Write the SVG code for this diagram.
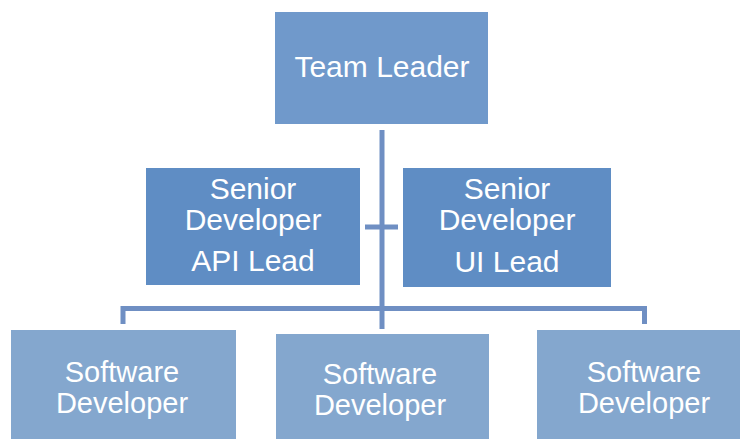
<svg xmlns="http://www.w3.org/2000/svg" width="740" height="439" viewBox="0 0 740 439">
<style>
.t{font-family:"Liberation Sans",Arial,sans-serif;font-size:29px;fill:#ffffff;text-anchor:middle}
.big{font-size:30px}
.ln{stroke:#6f8fc3;stroke-width:5;fill:none}
.lead{fill:#7099cb}
.sen{fill:#5f8dc4}
.sw{fill:#84a7ce}
</style>
<rect width="740" height="439" fill="#ffffff"/>
<g id="connectors">
<line class="ln" x1="382" y1="130" x2="382" y2="329"/>
<line class="ln" x1="365" y1="227" x2="398" y2="227"/>
<path class="ln" d="M123,324 V308.5 H644.5 V324"/>
</g>
<g id="team-leader">
<rect class="lead" x="275" y="12" width="213" height="112"/>
<text class="t big" x="382" y="77">Team Leader</text>
</g>
<g id="senior-api">
<rect class="sen" x="146" y="168" width="214" height="117"/>
<text class="t big" x="253" y="199">Senior</text>
<text class="t big" x="253" y="230">Developer</text>
<text class="t big" x="253" y="271">API Lead</text>
</g>
<g id="senior-ui">
<rect class="sen" x="403" y="168" width="208" height="119"/>
<text class="t big" x="507" y="199">Senior</text>
<text class="t big" x="507" y="230">Developer</text>
<text class="t big" x="507" y="272">UI Lead</text>
</g>
<g id="dev-1">
<rect class="sw" x="11" y="330" width="225" height="109"/>
<text class="t" x="122" y="382">Software</text>
<text class="t" x="122" y="413">Developer</text>
</g>
<g id="dev-2">
<rect class="sw" x="276" y="334" width="213" height="105"/>
<text class="t" x="380" y="384">Software</text>
<text class="t" x="380" y="415">Developer</text>
</g>
<g id="dev-3">
<rect class="sw" x="537" y="330" width="203" height="109"/>
<text class="t" x="644" y="382">Software</text>
<text class="t" x="644" y="413">Developer</text>
</g>
</svg>
